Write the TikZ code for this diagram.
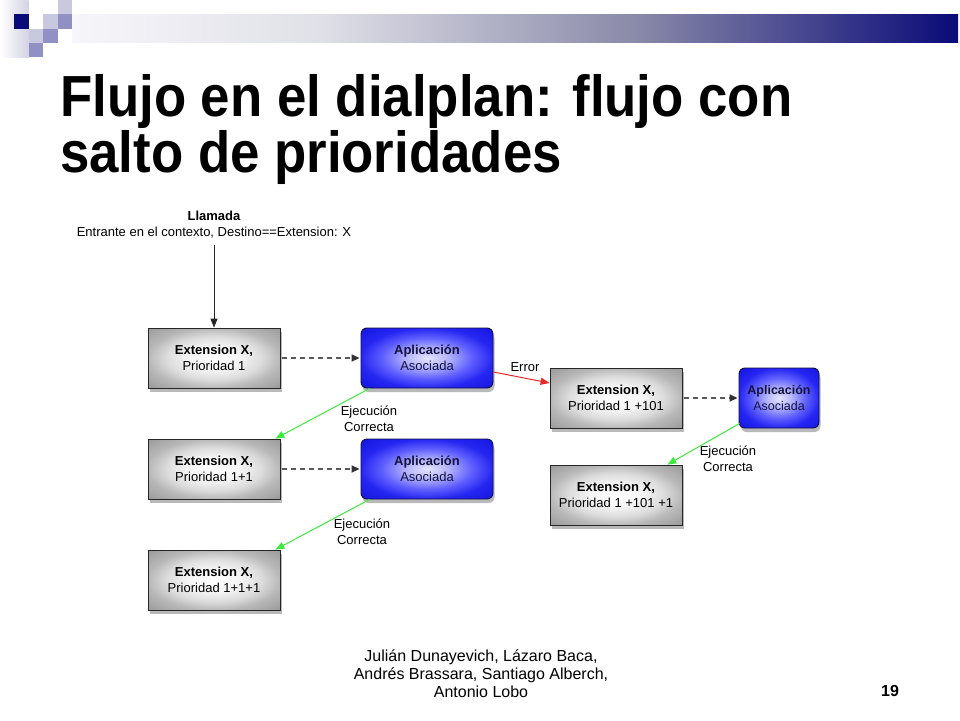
\documentclass[tikz,border=0pt]{standalone}
\usepackage{fontspec}
\setmainfont{Liberation Sans}
\newfontfamily\titlefont[FakeStretch=0.91]{Liberation Sans}
\usetikzlibrary{arrows.meta,shadows}
\definecolor{navy}{RGB}{10,10,120}
\definecolor{barA}{RGB}{246,246,250}
\definecolor{barB}{RGB}{224,224,232}
\definecolor{barC}{RGB}{136,136,168}
\definecolor{sqlight}{RGB}{200,200,222}
\definecolor{sqmid}{RGB}{144,144,196}
\definecolor{bluein}{RGB}{228,228,255}
\definecolor{bluein2}{RGB}{180,180,255}
\definecolor{bluemid}{RGB}{95,95,255}
\definecolor{blueedge2}{RGB}{38,38,242}
\definecolor{blueout}{RGB}{22,22,225}
\definecolor{blueedge}{RGB}{15,15,70}
\definecolor{bluetext}{RGB}{20,20,60}
\definecolor{grayin}{RGB}{244,244,244}
\definecolor{graymid}{RGB}{220,220,220}
\definecolor{graymid2}{RGB}{184,184,184}
\definecolor{grayout}{RGB}{155,155,155}
\definecolor{okgreen}{RGB}{60,235,60}
\definecolor{errred}{RGB}{235,40,40}
\pgfdeclareradialshading{grayshade}{\pgfpoint{0bp}{0bp}}{color(0bp)=(white); color(10bp)=(grayin); color(18bp)=(graymid); color(25bp)=(graymid2); color(35bp)=(grayout); color(50bp)=(grayout)}
\pgfdeclareradialshading{blueshade}{\pgfpoint{0bp}{0bp}}{color(0bp)=(bluein); color(8bp)=(bluein2); color(17bp)=(bluemid); color(25bp)=(blueedge2); color(35bp)=(blueout); color(50bp)=(blueout)}
\tikzset{
  extbox/.style={draw=black!85, line width=0.8pt, minimum width=132pt, minimum height=60pt,
    shading=grayshade,
    drop shadow={shadow xshift=1.5pt, shadow yshift=-4pt, opacity=0.55},
    align=center, font=\fontsize{13}{16}\selectfont, inner sep=0pt},
  appbox/.style={draw=blueedge, line width=0.9pt, rounded corners=6pt, minimum height=60pt,
    shading=blueshade,
    drop shadow={shadow xshift=1.5pt, shadow yshift=-4pt, opacity=0.55},
    align=center, font=\fontsize{13}{16}\selectfont, text=bluetext, inner sep=0pt},
  lbl/.style={align=center, font=\fontsize{13}{16}\selectfont, inner sep=0pt},
  dasharrow/.style={draw=black!65, line width=1.6pt, dash pattern=on 5pt off 4pt,
    -{Triangle[length=8pt,width=7pt,black!80]}},
  okarrow/.style={draw=okgreen, line width=1pt, -{Triangle[length=9pt,width=7pt]}},
  errarrow/.style={draw=errred, line width=1pt, -{Triangle[length=9pt,width=7pt]}},
  callarrow/.style={draw=black!85, line width=1pt, -{Triangle[length=9pt,width=7pt]}},
  foot/.style={align=center, font=\fontsize{16}{18}\selectfont, inner sep=0pt}
}
\begin{document}
\begin{tikzpicture}[x=1pt,y=-1pt]
\useasboundingbox (0,0) rectangle (960,720);
% header decoration
\shade[left color=white, right color=sqlight!80] (0,0) rectangle (28.5,57);
\fill[navy] (14.3,14.3) rectangle (28.5,28.5);
\fill[sqlight] (57.5,0) rectangle (72,14.3);
\fill[sqlight] (43,14.3) rectangle (57.5,28.5);
\fill[sqmid] (57.5,14.3) rectangle (72,28.5);
\fill[sqlight] (28.5,28.5) rectangle (43,43);
\fill[sqmid] (43,28.5) rectangle (57.5,43);
\fill[sqmid] (28.5,43) rectangle (43,57);
\shade[left color=barA, right color=barB] (72,14.3) rectangle (320.5,42);
\shade[left color=barB, right color=barC] (320,14.3) rectangle (640.5,42);
\shade[left color=barC, right color=navy] (640,14.3) rectangle (958,42);
% title
\node[anchor=base west, inner sep=0pt, font=\titlefont\bfseries\fontsize{58}{58}\selectfont] (t1) at (60,116) {Flujo en el dialplan: flujo con};
\node[anchor=base west, inner sep=0pt, font=\titlefont\bfseries\fontsize{58}{58}\selectfont] (t2) at (60,172) {salto de prioridades};
% call
\node[lbl] (call) at (214,225) {\textbf{Llamada}\\Entrante en el contexto, Destino==Extension: X};
% boxes
\node[extbox] (E1) at (214,358) {\textbf{Extension X,}\\Prioridad 1};
\node[appbox, minimum width=132pt] (A1) at (427,358) {\textbf{Aplicación}\\Asociada};
\node[extbox] (E2) at (214,469) {\textbf{Extension X,}\\Prioridad 1+1};
\node[appbox, minimum width=132pt] (A2) at (427,469) {\textbf{Aplicación}\\Asociada};
\node[extbox] (E3) at (214,580) {\textbf{Extension X,}\\Prioridad 1+1+1};
\node[extbox] (E4) at (616,398) {\textbf{Extension X,}\\Prioridad 1 +101};
\node[appbox, minimum width=80pt, font=\fontsize{12.5}{15.5}\selectfont] (A4) at (779,398) {\textbf{Aplicación}\\Asociada};
\node[extbox] (E5) at (616,495) {\textbf{Extension X,}\\Prioridad 1 +101 +1};
% labels
\node[lbl] (ok1) at (369,419) {Ejecución\\Correcta};
\node[lbl] (ok2) at (362,532) {Ejecución\\Correcta};
\node[lbl] (ok3) at (728,459) {Ejecución\\Correcta};
\node[lbl] (err) at (525,367) {Error};
% connectors
\draw[callarrow] (call.south) ++(0,6) -- (E1.north);
\draw[dasharrow] ([xshift=2pt]E1.east) -- ([xshift=-1pt]A1.west);
\draw[dasharrow] ([xshift=2pt]E2.east) -- ([xshift=-1pt]A2.west);
\draw[dasharrow] ([xshift=2pt]E4.east) -- ([xshift=-1pt]A4.west);
\draw[okarrow] ([xshift=9pt]A1.south west) -- ([xshift=-5pt]E2.north east);
\draw[okarrow] ([xshift=9pt]A2.south west) -- ([xshift=-5pt]E3.north east);
\draw[okarrow] ([xshift=1pt,yshift=5pt]A4.south west) -- ([xshift=-15pt]E5.north east);
\draw[errarrow] ([yshift=-14pt]A1.east) -- ([yshift=15pt]E4.west);
% footer
\node[foot] (authors) at (481,674) {Julián Dunayevich, Lázaro Baca,\\Andrés Brassara, Santiago Alberch,\\Antonio Lobo};
\node[inner sep=0pt, font=\bfseries\fontsize{16}{18}\selectfont] (page) at (890,691) {19};
\end{tikzpicture}
\end{document}
